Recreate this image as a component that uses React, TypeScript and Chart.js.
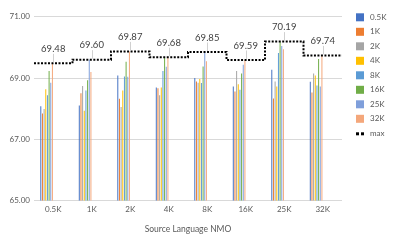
import React, { useEffect, useRef } from "react";
import { Chart, registerables } from "chart.js";
Chart.register(...registerables);

const categories = ["0.5K", "1K", "2K", "4K", "8K", "16K", "25K", "32K"];
const seriesNames = ["0.5K", "1K", "2K", "4K", "8K", "16K", "25K", "32K"];
const s05K = [68.08, 68.1, 69.08, 68.69, 69.0, 68.72, 69.27, 68.88];
const s1K = [67.84, 68.5, 68.32, 68.67, 68.89, 68.56, 68.33, 68.53];
const s2K = [67.99, 68.74, 68.05, 68.44, 68.85, 69.23, 68.89, 69.15];
const s4K = [68.63, 67.93, 68.59, 68.69, 68.97, 68.8, 68.72, 69.08];
const s8K = [68.44, 68.59, 69.05, 69.23, 68.84, 68.62, 69.82, 68.76];
const s16K = [69.23, 68.93, 69.53, 69.68, 69.38, 69.15, 70.19, 69.62];
const s25K = [68.85, 69.6, 69.04, 69.37, 69.85, 69.43, 70.05, 68.72];
const s32K = [69.48, 69.2, 69.87, 69.66, 69.55, 69.59, 69.94, 69.74];
const maxValues = [69.48, 69.6, 69.87, 69.68, 69.85, 69.59, 70.19, 69.74];
const maxLabel = "max";
const yTicks = [65, 67, 69, 71];
const axisTitle = "Source Language NMO";

const seriesData = [s05K, s1K, s2K, s4K, s8K, s16K, s25K, s32K];
const colors = ["#4472C4", "#ED7D31", "#A5A5A5", "#FFC000", "#5B9BD5", "#70AD47", "#7F9FDB", "#F4A77B"];
const FONT = "Lato, 'Open Sans', sans-serif";

const overlayPlugin = {
  id: "overlay",
  afterDatasetsDraw(chart: any) {
    const { ctx, chartArea, scales } = chart;
    const x = scales.x;
    const y = scales.y;
    ctx.save();
    maxValues.forEach((v, i) => {
      const cx = x.getPixelForValue(i);
      const ly = y.getPixelForValue(v);
      const ty = ly - 14.5;
      ctx.strokeStyle = "#d0d0d0";
      ctx.lineWidth = 1;
      ctx.beginPath();
      ctx.moveTo(Math.round(cx) + 0.5, ty + 5);
      ctx.lineTo(Math.round(cx) + 0.5, ly - 1);
      ctx.stroke();
      ctx.fillStyle = "#404040";
      ctx.font = `9.5px ${FONT}`;
      ctx.textAlign = "center";
      ctx.textBaseline = "middle";
      ctx.fillText(v.toFixed(2), cx, ty);
    });
    const bx = chartArea.right + 14;
    const tx = chartArea.right + 28;
    let cy = chartArea.top + 0.5;
    ctx.font = `8px ${FONT}`;
    ctx.textAlign = "left";
    ctx.textBaseline = "middle";
    seriesNames.forEach((name, i) => {
      ctx.fillStyle = colors[i];
      ctx.fillRect(bx, cy - 4, 8, 8);
      ctx.fillStyle = "#595959";
      ctx.fillText(name, tx, cy);
      cy += 14.5;
    });
    ctx.fillStyle = "#000";
    ctx.fillRect(bx, cy - 1, 3, 3);
    ctx.fillRect(bx + 5, cy - 1, 3, 3);
    ctx.fillStyle = "#595959";
    ctx.fillText(maxLabel, tx, cy);
    ctx.restore();
  },
};

export default function App() {
  const ref = useRef<HTMLCanvasElement>(null);
  useEffect(() => {
    if (!ref.current) return;
    const datasets: any[] = seriesNames.map((name, i) => ({
      type: "bar",
      label: name,
      data: seriesData[i],
      backgroundColor: colors[i],
      xAxisID: "x",
      categoryPercentage: 0.69,
      barPercentage: 0.6,
      order: 1,
    }));
    const linePts = maxValues.map((v, i) => ({ x: i, y: v }));
    linePts.push({ x: maxValues.length, y: maxValues[maxValues.length - 1] });
    datasets.push({
      type: "line",
      label: maxLabel,
      data: linePts,
      xAxisID: "xl",
      borderColor: "#000",
      borderWidth: 2,
      borderDash: [2, 1.5],
      pointRadius: 0,
      stepped: "before",
      fill: false,
      order: 0,
    });
    const chart = new Chart(ref.current, {
      type: "bar",
      data: { labels: categories, datasets },
      options: {
        animation: false,
        responsive: true,
        maintainAspectRatio: false,
        layout: { padding: { top: 7.5, right: 47, left: 0, bottom: 0 } },
        plugins: { legend: { display: false }, tooltip: { enabled: false } },
        scales: {
          x: {
            type: "category",
            offset: true,
            grid: { display: false, drawTicks: false },
            border: { display: false },
            ticks: { font: { family: FONT, size: 8 }, color: "#595959", padding: 4 },
            title: {
              display: true,
              text: axisTitle,
              font: { family: FONT, size: 8.5 },
              color: "#595959",
              padding: { top: 6, bottom: 3 },
            },
            afterFit: (s: any) => {
              s.height = 36.5;
            },
          },
          xl: {
            type: "linear",
            position: "bottom",
            min: 0,
            max: categories.length,
            offset: false,
            display: false,
            grid: { offset: false },
          },
          y: {
            min: yTicks[0],
            max: yTicks[yTicks.length - 1],
            afterBuildTicks: (s: any) => {
              s.ticks = yTicks.map((v) => ({ value: v }));
            },
            ticks: {
              font: { family: FONT, size: 8 },
              color: "#595959",
              padding: 4,
              callback: (v: any) => Number(v).toFixed(2),
            },
            grid: { color: "#d9d9d9", drawTicks: false },
            border: { display: false },
            afterFit: (s: any) => {
              s.width = 26;
            },
          },
        },
      },
      plugins: [overlayPlugin],
    });
    return () => chart.destroy();
  }, []);
  return (
    <div style={{ width: 381, height: 229 }}>
      <canvas ref={ref} />
    </div>
  );
}
